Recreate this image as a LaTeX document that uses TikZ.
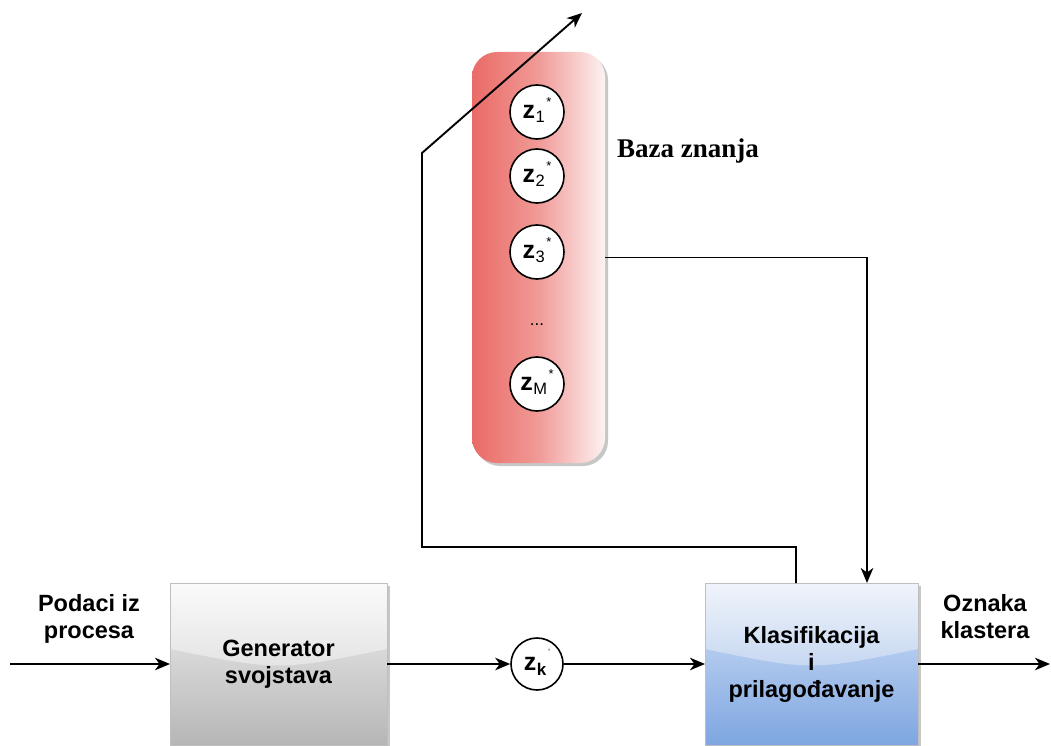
\documentclass[tikz,border=0pt]{standalone}
\usepackage{fontspec}
\setmainfont{Liberation Sans}
\newfontfamily\bazafont{Liberation Serif}
\usetikzlibrary{arrows.meta,calc,backgrounds}

\definecolor{redL}{HTML}{EA6B66}
\definecolor{redM}{HTML}{F09A97}
\definecolor{redR}{HTML}{FDF2F2}
\definecolor{grayBaseT}{HTML}{F1F1F1}
\definecolor{grayBaseB}{HTML}{B6B6B6}
\definecolor{grayGlassT}{HTML}{FAFAFA}
\definecolor{grayGlassB}{HTML}{E3E3E3}
\definecolor{blueBaseT}{HTML}{D6E3F9}
\definecolor{blueBaseB}{HTML}{7EA6E0}
\definecolor{blueGlassT}{HTML}{F0F4FB}
\definecolor{blueGlassB}{HTML}{C4D6F1}

% symbol z with a subscript and a raised mark set after it
\newcommand{\zsym}[2]{\textbf{z}\kern0.5pt\raisebox{-4pt}[0pt][0pt]{\fontsize{16.5}{16.5}\selectfont #1}\kern1.5pt\raisebox{12pt}[0pt][0pt]{\fontsize{13}{13}\selectfont #2}}

\begin{document}
\begin{tikzpicture}[x=1pt,y=-1pt,
  conn/.style={line width=1.9pt},
  arr/.style={conn,-{Stealth[length=15pt,width=12.5pt,inset=4.5pt]}},
  lbl/.style={font=\fontsize{23.5}{27}\selectfont\bfseries, align=center, inner sep=0pt},
  zcirc/.style={circle, draw=black, line width=1.6pt, fill=white, minimum size=54pt,
    inner sep=0pt, font=\fontsize{25}{25}\selectfont},
  glassbox/.style n args={4}{draw=black!25, line width=0.8pt, outer sep=0pt,
    minimum height=162pt, lbl,
    path picture={
      \shade[top color=#1, bottom color=#2]
        (path picture bounding box.north west) rectangle (path picture bounding box.south east);
      \shade[top color=#3, bottom color=#4]
        (path picture bounding box.north west) -- (path picture bounding box.north east)
        -- ($(path picture bounding box.north east)+(0,66)$)
        .. controls ($(path picture bounding box.north)+(0,88)$) ..
        ($(path picture bounding box.north west)+(0,66)$) -- cycle;
    }},
  shadowfill/.style={fill=black!22}
]
\useasboundingbox (0,0) rectangle (1051,746);

% knowledge base
\node[rounded corners=25pt, left color=redL, right color=redR, middle color=redM,
      minimum width=133pt, minimum height=411pt, inner sep=0pt, outer sep=0pt]
      (kb) at (538.5,257.5) {};
\node[zcirc] (z1) at (537,112) {\zsym{1}{*}};
\node[zcirc] (z2) at (537,176) {\zsym{2}{*}};
\node[zcirc] (z3) at (537,252) {\zsym{3}{*}};
\node[font=\fontsize{17}{17}\selectfont, inner sep=0pt] (dots) at (537,325) {...};
\node[zcirc] (zM) at (537,384) {\zsym{M}{*}};
\node[font=\fontsize{27}{30}\selectfont\bazafont\bfseries, inner sep=0pt] (baza) at (688,151) {Baza znanja};

% processing blocks
\node[glassbox={grayBaseT}{grayBaseB}{grayGlassT}{grayGlassB}, minimum width=217pt]
      (gen) at (278.5,664) {Generator\\svojstava};
\node[glassbox={blueBaseT}{blueBaseB}{blueGlassT}{blueGlassB}, minimum width=213pt]
      (kls) at (811.5,664) {Klasifikacija\\i\\prilagođavanje};
\node[zcirc, minimum size=52pt] (zk) at (537,664) {\textbf{z}\kern0.5pt\raisebox{-4.5pt}[0pt][0pt]{\fontsize{17}{17}\selectfont\bfseries k}\kern2pt\raisebox{15pt}[0pt][0pt]{\fontsize{9}{9}\selectfont '}};

% side labels
\node[lbl] (inlbl) at (89,618.5) {Podaci iz\\procesa};
\node[lbl] (outlbl) at (985,616.5) {Oznaka\\klastera};

% drop shadows
\begin{scope}[on background layer]
  \fill[shadowfill, rounded corners=25pt] ([shift={(3pt,-3pt)}]kb.north west) rectangle ([shift={(3pt,-3pt)}]kb.south east);
  \fill[shadowfill] ([shift={(3pt,-3pt)}]gen.north west) rectangle ([shift={(3pt,-3pt)}]gen.south east);
  \fill[shadowfill] ([shift={(3pt,-3pt)}]kls.north west) rectangle ([shift={(3pt,-3pt)}]kls.south east);
\end{scope}

% free ends of connectors
\coordinate (inbeg) at (10,664);
\coordinate (outend) at (1050,664);
\coordinate (fbA) at (422,547);
\coordinate (fbB) at (422,153);
\coordinate (fbtip) at (582,13);

% signal flow
\draw[arr] (inbeg) -- (gen.west);
\draw[arr] (gen.east) -- (zk.west);
\draw[arr] (zk.east) -- (kls.west);
\draw[arr] (kls.east) -- (outend);
\draw[arr] (kb.east) -| ([xshift=55.5pt]kls.north);
\draw[arr] ([xshift=-15.5pt]kls.north) |- (fbA) -- (fbB) -- (fbtip);
\end{tikzpicture}
\end{document}
